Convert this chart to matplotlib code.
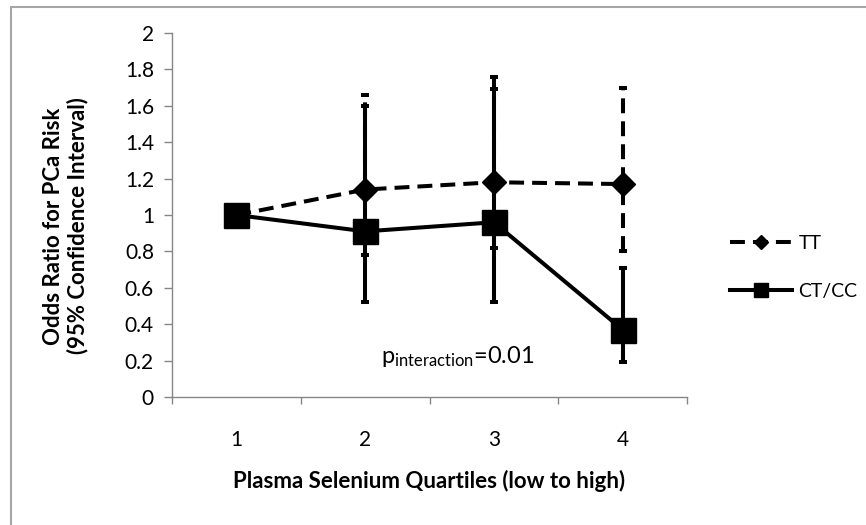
import numpy as np
import matplotlib
matplotlib.use("Agg")
from matplotlib import pyplot as plt
from matplotlib.patches import Rectangle

plt.rcParams['font.family'] = ['Lato', 'DejaVu Sans']

# data
quartiles = ['1', '2', '3', '4']
tt_or = [1.0, 1.14, 1.18, 1.17]
tt_low = [np.nan, 0.78, 0.82, 0.80]
tt_high = [np.nan, 1.66, 1.76, 1.70]
ct_or = [1.0, 0.91, 0.96, 0.37]
ct_low = [np.nan, 0.52, 0.52, 0.19]
ct_high = [np.nan, 1.60, 1.69, 0.71]

x = np.arange(1, len(quartiles) + 1)
axis_grey = '#868686'
dash = (0, (3.7, 2.0))
fs = 15

fig = plt.figure(figsize=(8.66, 5.25), dpi=100)
ax = fig.add_axes([172/866, 1-397/525, (687-172)/866, (397-33)/525])

# confidence intervals (no interval for the reference quartile)
tt_o = np.array(tt_or); ct_o = np.array(ct_or)
tt_err = [tt_o[1:] - np.array(tt_low[1:]), np.array(tt_high[1:]) - tt_o[1:]]
ct_err = [ct_o[1:] - np.array(ct_low[1:]), np.array(ct_high[1:]) - ct_o[1:]]

eb = ax.errorbar(x[1:], tt_o[1:], yerr=tt_err, fmt='none', ecolor='black',
                 elinewidth=2.9, capsize=3.2, capthick=2.9, zorder=2)
eb[2][0].set_linestyle(dash)
ax.errorbar(x[1:], ct_o[1:], yerr=ct_err, fmt='none', ecolor='black',
            elinewidth=2.9, capsize=3.2, capthick=2.9, zorder=2)

ax.plot(x, tt_or, color='black', lw=2.9, linestyle=dash, marker='D',
        markersize=12.5, label='TT', zorder=3)
ax.plot(x, ct_or, color='black', lw=2.9, marker='s', markersize=18,
        label='CT/CC', zorder=4)

ax.text(2.72, 0.22, r'$\mathregular{p_{interaction}}$=0.01', fontsize=17,
        ha='center', va='center')

ax.set_xlim(0.5, 4.5)
ax.set_ylim(0, 2)
ax.set_yticks(np.arange(0, 2.01, 0.2))
ax.set_yticklabels(['0', '0.2', '0.4', '0.6', '0.8', '1', '1.2', '1.4', '1.6', '1.8', '2'])
ax.set_xticks(x)
ax.set_xticklabels(quartiles)
ax.set_xticks(np.arange(0.5, 4.6, 1), minor=True)
ax.tick_params(axis='x', which='major', length=0, pad=24, labelsize=fs)
ax.tick_params(axis='x', which='minor', length=5, width=1, color=axis_grey)
ax.tick_params(axis='y', length=6, width=1, color=axis_grey, labelsize=fs, pad=7)

for side in ['top', 'right']:
    ax.spines[side].set_visible(False)
for side in ['left', 'bottom']:
    ax.spines[side].set_color(axis_grey)
    ax.spines[side].set_linewidth(1)

ax.set_xlabel('Plasma Selenium Quartiles (low to high)', fontsize=16,
              fontweight='bold', labelpad=14)
ax.set_ylabel('Odds Ratio for PCa Risk\n(95% Confidence Interval)', fontsize=16,
              fontweight='bold', linespacing=1.15)
ax.yaxis.set_label_coords(-0.163, 0.47)

leg = ax.legend(loc='center left', bbox_to_anchor=(1.05, 0.356), frameon=False,
                fontsize=14, handlelength=3.2, handletextpad=0.3,
                labelspacing=1.6, markerscale=0.55)

fig.add_artist(Rectangle((11/866, -0.1), 1.2, 1-7/525+0.1, fill=False,
                         edgecolor='#a6a6a6', lw=1.5, transform=fig.transFigure))

fig.savefig('out.png', dpi=100)
